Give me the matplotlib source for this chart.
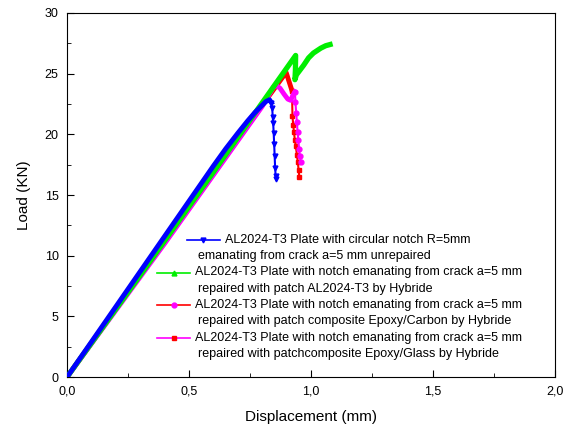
import matplotlib
matplotlib.use('Agg')
import matplotlib.pyplot as plt
from matplotlib.lines import Line2D
from matplotlib.ticker import MultipleLocator, FuncFormatter

plt.rcParams['font.family'] = ['Liberation Sans', 'DejaVu Sans']

# unrepaired plate (blue)
x_blue = [0, 0.2, 0.4, 0.6, 0.65, 0.7, 0.74, 0.77, 0.80, 0.815, 0.83, 0.838,
          0.841, 0.843, 0.845, 0.847, 0.849, 0.851, 0.853, 0.855, 0.857]
y_blue = [0, 5.8, 11.6, 17.4, 18.8, 20.1, 21.1, 21.8, 22.4, 22.7, 22.85, 22.6,
          22.15, 21.46, 20.9, 20.1, 19.2, 18.2, 17.2, 16.6, 16.3]
blue_peak = 11

# repaired with AL2024-T3 patch (green)
x_green = [0, 0.3, 0.6, 0.8, 0.937, 0.936, 0.934, 0.94, 0.955, 0.97,
           0.99, 1.01, 1.04, 1.06, 1.078]
y_green = [0, 8.4, 16.9, 22.6, 26.5, 25.3, 24.5, 24.9, 25.3, 25.7,
           26.3, 26.7, 27.1, 27.3, 27.4]

# repaired with Epoxy/Carbon patch (red)
x_red = [0, 0.4, 0.8, 0.898, 0.922, 0.924, 0.927, 0.930, 0.934, 0.938,
         0.942, 0.946, 0.949, 0.952]
y_red = [0, 11.2, 22.4, 25.1, 23.6, 21.5, 20.8, 20.2, 19.5, 19.0,
         18.3, 17.7, 17.1, 16.5]
red_peak = 4

# repaired with Epoxy/Glass patch (magenta)
x_mag = [0, 0.4, 0.8, 0.846, 0.86, 0.873, 0.89, 0.905, 0.917, 0.925,
         0.934, 0.936, 0.939, 0.942, 0.945, 0.948, 0.951, 0.954, 0.958]
y_mag = [0, 11.0, 22.3, 23.9, 24.0, 23.8, 23.3, 22.9, 22.8, 23.2,
         23.5, 22.7, 21.8, 21.0, 20.2, 19.5, 18.8, 18.2, 17.7]
mag_peak = 10

labels = [
    ('AL2024-T3 Plate with circular notch R=5mm', 'emanating from crack a=5 mm unrepaired'),
    ('AL2024-T3 Plate with notch emanating from crack a=5 mm', 'repaired with patch AL2024-T3 by Hybride'),
    ('AL2024-T3 Plate with notch emanating from crack a=5 mm', 'repaired with patch composite Epoxy/Carbon by Hybride'),
    ('AL2024-T3 Plate with notch emanating from crack a=5 mm', 'repaired with patchcomposite Epoxy/Glass by Hybride'),
]
# legend glyphs: line colour, marker, marker colour
glyphs = [('#0000ff', 'v', '#0000ff'), ('#00ee00', '^', '#00ee00'),
          ('#ff0000', 'o', '#ff00ff'), ('#ff00ff', 's', '#ff0000')]

W, H = 574, 432
fig = plt.figure(figsize=(W / 100, H / 100), dpi=100)
ax = fig.add_axes([0.1167, 0.127, 0.8503, 0.843])

# thick rising parts, thin dropping parts with markers
ax.plot(x_red[:red_peak + 1], y_red[:red_peak + 1], color='#ff0000', lw=3.5, zorder=2)
ax.plot(x_red[red_peak:], y_red[red_peak:], color='#ff0000', lw=1.5,
        marker='s', ms=3.5, zorder=2)
ax.plot(x_mag[:mag_peak + 1], y_mag[:mag_peak + 1], color='#ff00ff', lw=3.5, zorder=3)
ax.plot(x_mag[mag_peak:], y_mag[mag_peak:], color='#ff00ff', lw=1.5,
        marker='o', ms=3.5, zorder=3)
ax.plot(x_green, y_green, color='#00ee00', lw=3.8, zorder=4)
ax.plot(x_blue[:blue_peak + 1], y_blue[:blue_peak + 1], color='#0000ff', lw=3.5, zorder=5)
ax.plot(x_blue[blue_peak:], y_blue[blue_peak:], color='#0000ff', lw=1.5,
        marker='v', ms=3.5, zorder=5)

ax.set_xlim(0, 2.0)
ax.set_ylim(0, 30)
ax.xaxis.set_major_locator(MultipleLocator(0.5))
ax.xaxis.set_minor_locator(MultipleLocator(0.25))
ax.yaxis.set_major_locator(MultipleLocator(5))
ax.yaxis.set_minor_locator(MultipleLocator(2.5))
ax.xaxis.set_major_formatter(FuncFormatter(lambda v, p: f'{v:.1f}'.replace('.', ',')))
ax.tick_params(which='both', direction='in', labelsize=9)
ax.tick_params(which='major', length=5, pad=6)
ax.tick_params(which='minor', length=3)
ax.set_xlabel('Displacement (mm)', fontsize=11, labelpad=9)
ax.set_ylabel('Load (KN)', fontsize=11, labelpad=10)

# Origin-style legend: handle before first line, second line indented
for i, ((l1, l2), (lc, mk, mc)) in enumerate(zip(labels, glyphs)):
    y1 = 240 + 32.5 * i
    hx0 = 187 if i == 0 else 157
    fig.add_artist(Line2D([hx0 / W, (hx0 + 33) / W], [1 - y1 / H] * 2, color=lc, lw=1.2,
                          transform=fig.transFigure))
    fig.add_artist(Line2D([(hx0 + 16.5) / W], [1 - y1 / H], color=mc, marker=mk, ms=3.5,
                          ls='none', transform=fig.transFigure))
    fig.text((hx0 + 38) / W, 1 - y1 / H, l1, fontsize=9, va='center', ha='left')
    fig.text(198 / W, 1 - (y1 + 16.3) / H, l2, fontsize=9, va='center', ha='left')

fig.savefig('out.png', dpi=100)
